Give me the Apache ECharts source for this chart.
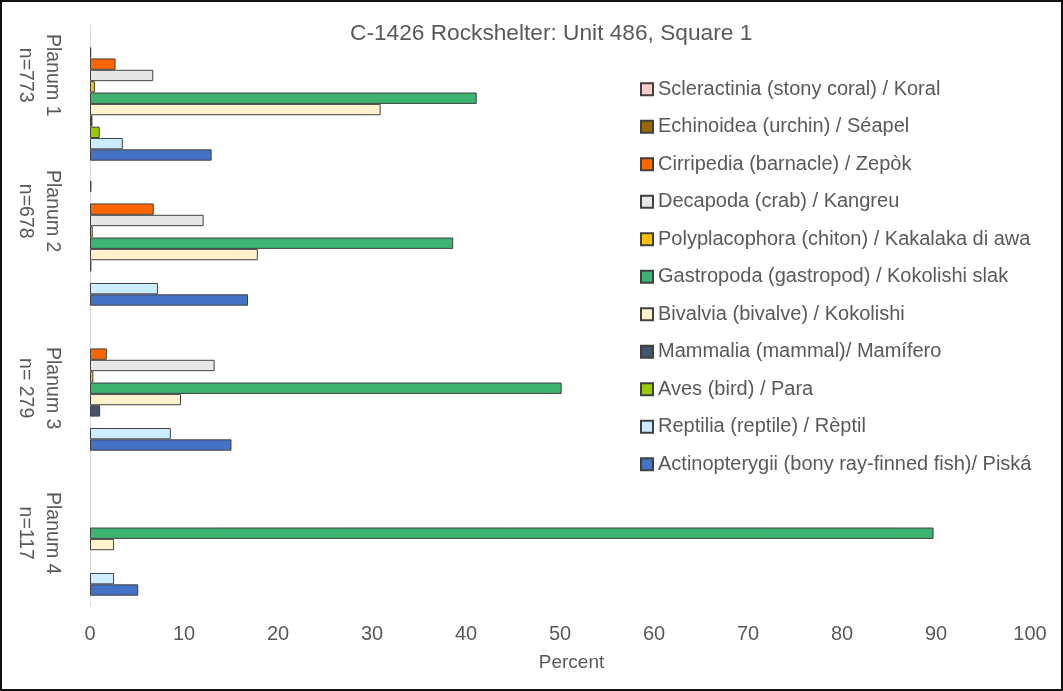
<!DOCTYPE html>
<html>
<head>
<meta charset="utf-8">
<script src="https://cdn.jsdelivr.net/npm/echarts@6/dist/echarts.min.js"></script>
<style>
  html, body { margin: 0; padding: 0; background: #fff; }
  #wrap { position: relative; width: 1063px; height: 691px; }
  #chart { position: absolute; left: 0; top: 0; width: 1063px; height: 691px; }
  #frame { position: absolute; left: 0; top: 0; width: 1063px; height: 691px; box-sizing: border-box; border: 2px solid #111; pointer-events: none; }
</style>
</head>
<body>
<div id="wrap"><div id="chart"></div><div id="frame"></div></div>
<script>
// ---- data ----
const titleText = 'C-1426 Rockshelter: Unit 486, Square 1';
const categories = ['Planum 1', 'Planum 2', 'Planum 3', 'Planum 4'];
const sampleSizes = ['n=773', 'n=678', 'n= 279', 'n=117'];
const seriesNames = [
  'Scleractinia (stony coral) / Koral',
  'Echinoidea (urchin) / Séapel',
  'Cirripedia (barnacle) / Zepòk',
  'Decapoda (crab) / Kangreu',
  'Polyplacophora (chiton) / Kakalaka di awa',
  'Gastropoda (gastropod) / Kokolishi slak',
  'Bivalvia (bivalve) / Kokolishi',
  'Mammalia (mammal)/ Mamífero',
  'Aves (bird) / Para',
  'Reptilia (reptile) / Rèptil',
  'Actinopterygii (bony ray-finned fish)/ Piská'
];
const scleractinia   = [0, 0.15, 0, 0];
const echinoidea     = [0.13, 0, 0, 0];
const cirripedia     = [2.72, 6.78, 1.79, 0];
const decapoda       = [6.73, 12.09, 13.26, 0];
const polyplacophora = [0.52, 0.29, 0.36, 0];
const gastropoda     = [41.14, 38.64, 50.18, 89.74];
const bivalvia       = [30.92, 17.85, 9.68, 2.56];
const mammalia       = [0.26, 0.15, 1.08, 0];
const aves           = [1.03, 0, 0, 0];
const reptilia       = [3.49, 7.23, 8.60, 2.56];
const actinopterygii = [12.94, 16.81, 15.05, 5.13];
const xAxisTitle = 'Percent';

// ---- styles ----
const seriesValues = [scleractinia, echinoidea, cirripedia, decapoda, polyplacophora,
  gastropoda, bivalvia, mammalia, aves, reptilia, actinopterygii];
const seriesColors = ['#FFCCCC', '#996600', '#FF6600', '#E7E6E6', '#FFC000',
  '#3CB371', '#FFF2CC', '#44546A', '#99CC00', '#CCECFF', '#4472C4'];
const FONT = 'Liberation Sans';
const TXT = '#595959';
const labelLift = [46, 64, 0, 0];

const rich = { t: { fontSize: 19.5, lineHeight: 27, color: TXT, fontFamily: FONT } };
labelLift.forEach((w, i) => { rich['g' + i] = { width: w, fontSize: 19.5, lineHeight: 27 }; });

const chart = echarts.init(document.getElementById('chart'), null, { renderer: 'canvas' });
chart.setOption({
  animation: false,
  backgroundColor: '#fff',
  textStyle: { fontFamily: FONT },
  title: {
    text: titleText,
    left: 350, top: 22, padding: 0,
    textStyle: { fontSize: 22.7, fontWeight: 'normal', color: TXT, fontFamily: FONT }
  },
  legend: {
    orient: 'vertical',
    left: 640, top: 79.3, padding: 0,
    itemWidth: 12, itemHeight: 12, itemGap: 17.5,
    icon: 'rect',
    selectedMode: false,
    textStyle: { fontSize: 20, lineHeight: 20, color: TXT, fontFamily: FONT },
    data: seriesNames
  },
  grid: { left: 90, right: 33, top: 25.7, bottom: 85.3, containLabel: false },
  xAxis: {
    type: 'value', min: 0, max: 100, interval: 10,
    axisLine: { show: false }, axisTick: { show: false }, splitLine: { show: false },
    axisLabel: { fontSize: 20, color: TXT, margin: 19, fontFamily: FONT },
    name: xAxisTitle, nameLocation: 'middle', nameGap: 48,
    nameTextStyle: { fontSize: 19, color: TXT, fontFamily: FONT, padding: [0, 0, 0, 23] }
  },
  yAxis: {
    type: 'category', inverse: true, data: categories,
    axisLine: { show: true, lineStyle: { color: '#D9D9D9', width: 1 } },
    axisTick: { show: false },
    axisLabel: {
      interval: 0,
      rotate: -90, margin: 24, color: TXT, fontSize: 19.5, lineHeight: 27,
      formatter: (v, i) => `{t|${v}}{g${i}| }\n{t|${sampleSizes[i]}}{g${i}| }`,
      rich: rich
    }
  },
  series: seriesNames.map((name, k) => ({
    name: name,
    type: 'bar',
    barGap: '0%',
    barCategoryGap: '13.8%',
    data: seriesValues[k].map(v => (v === 0 ? '-' : v)),
    itemStyle: { color: seriesColors[k], borderColor: '#404040', borderWidth: 1 }
  }))
});
</script>
</body>
</html>
